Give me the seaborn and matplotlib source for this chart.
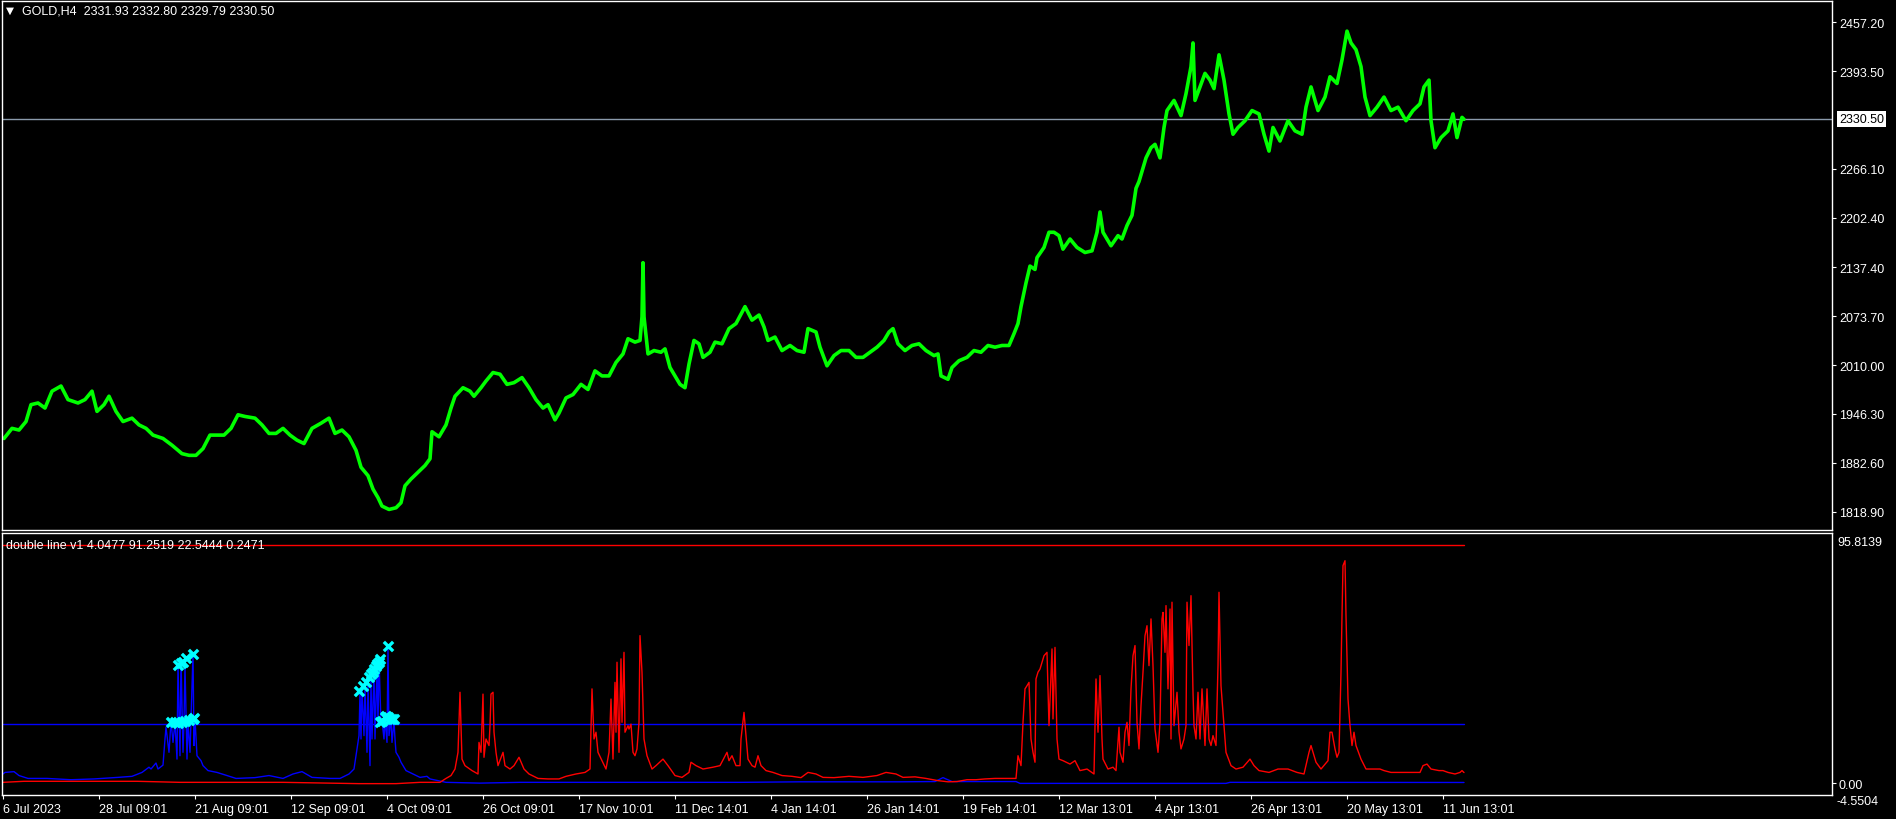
import pandas as pd
import matplotlib
matplotlib.use("Agg")
import matplotlib.pyplot as plt
import seaborn as sns

# ---- GOLD H4 closes (bar position, price) ----
price_bar = [4, 12, 19, 26, 31, 38, 45, 52, 61, 68, 78, 85, 92, 97, 104, 109, 116, 123, 132, 139,
             146, 153, 163, 172, 182, 189, 196, 203, 210, 217, 224, 231, 238, 245, 255, 262, 269, 276,
             283, 290, 297, 304, 312, 321, 329, 335, 342, 349, 356, 361, 368, 373, 378, 382, 389, 396,
             401, 405, 411, 418, 425, 430, 432, 439, 446, 451, 455, 463, 470, 474, 481, 486, 493, 500,
             507, 514, 522, 529, 536, 543, 548, 555, 559, 566, 573, 581, 588, 595, 602, 609, 616, 623,
             628, 635, 640, 642, 643, 644, 648, 654, 661, 665, 670, 675, 680, 685, 689, 694, 699, 703,
             710, 715, 722, 729, 736,
             745, 752, 759, 764, 768, 775, 782, 790, 797, 804, 808, 816, 820, 827, 834, 841, 849, 856,
             863, 870, 877, 884, 889, 893, 898, 905, 912, 919, 926, 934, 938, 941, 948, 952, 959, 967,
             974, 981, 988, 995, 1002, 1009, 1014, 1018, 1021, 1026, 1030, 1035, 1037, 1044, 1049, 1054,
             1059, 1063, 1070, 1077, 1085, 1092, 1097, 1100, 1103, 1111, 1118, 1122, 1127, 1132, 1136,
             1139, 1146, 1151, 1155, 1160, 1164, 1167, 1174, 1181, 1186, 1191, 1193, 1195, 1200, 1205,
             1210, 1214, 1219, 1224, 1229, 1233, 1238, 1245, 1252, 1259, 1264, 1269, 1273, 1280, 1288,
             1295, 1302, 1306, 1311, 1318, 1325, 1330, 1337, 1342, 1347, 1351, 1356, 1361, 1365, 1370,
             1377, 1384, 1391, 1398, 1406, 1413, 1420, 1424, 1429, 1431, 1435, 1441, 1448, 1453, 1457,
             1462, 1464]
price_close = [1914.2, 1927.4, 1925.2, 1936.3, 1958.3, 1960.5, 1953.9, 1975.9, 1982.6, 1964.9,
               1960.5, 1964.9, 1975.9, 1949.5, 1958.3, 1969.3, 1949.5, 1936.3, 1940.7, 1931.9,
               1927.4, 1918.6, 1914.2, 1905.4, 1894.4, 1892.2, 1892.2, 1901.0, 1918.6, 1918.6,
               1918.6, 1927.4, 1945.1, 1942.9, 1940.7, 1931.9, 1920.8, 1920.8, 1927.4, 1918.6,
               1912.0, 1907.6, 1927.4, 1934.1, 1940.7, 1920.8, 1925.2, 1916.4, 1898.8, 1876.7,
               1865.7, 1848.1, 1837.0, 1826.0, 1821.6, 1823.8, 1830.4, 1852.5, 1861.3, 1870.1,
               1878.9, 1887.7, 1923.0, 1916.4, 1931.9, 1953.9, 1969.3, 1980.4, 1975.9, 1969.3,
               1980.4, 1989.2, 2000.2, 1998.0, 1984.8, 1987.0, 1993.6, 1980.4, 1964.9, 1953.9,
               1958.3, 1938.5, 1947.3, 1967.1, 1971.5, 1984.8, 1978.1, 2002.4, 1995.8, 1995.8,
               2013.4, 2024.5, 2044.3, 2039.9, 2042.1, 2073.0, 2143.5, 2073.0, 2024.5, 2028.9,
               2026.7, 2031.1, 2006.8, 1995.8, 1984.8, 1980.4, 2011.2, 2042.1, 2037.7, 2020.0,
               2026.7, 2039.9, 2037.7, 2057.5, 2064.1,
               2086.2, 2068.6, 2075.2, 2059.7, 2042.1, 2046.5, 2028.9, 2035.5, 2028.9, 2026.7,
               2057.5, 2053.1, 2033.3, 2009.0, 2022.3, 2028.9, 2028.9, 2020.0, 2020.0, 2026.7,
               2033.3, 2042.1, 2053.1, 2057.5, 2037.7, 2028.9, 2035.5, 2037.7, 2028.9, 2022.3,
               2024.5, 1995.8, 1991.4, 2006.8, 2015.6, 2020.0, 2028.9, 2026.7, 2035.5, 2033.3,
               2035.5, 2035.5, 2050.9, 2064.1, 2086.2, 2117.1, 2139.1, 2134.7, 2150.1, 2163.4,
               2183.2, 2183.2, 2178.8, 2161.2, 2174.4, 2163.4, 2156.8, 2159.0, 2183.2, 2209.7,
               2183.2, 2165.6, 2178.8, 2174.4, 2192.0, 2205.3, 2240.5, 2249.4, 2280.2, 2293.5,
               2297.9, 2280.2, 2319.9, 2342.0, 2355.2, 2335.4, 2364.0, 2399.3, 2430.2, 2355.2,
               2372.8, 2390.5, 2381.7, 2370.6, 2414.7, 2381.7, 2337.6, 2311.1, 2319.9, 2328.7,
               2342.0, 2337.6, 2311.1, 2289.1, 2319.9, 2302.3, 2328.7, 2315.5, 2311.1, 2346.4,
               2372.8, 2342.0, 2359.6, 2386.1, 2377.3, 2408.1, 2445.6, 2430.2, 2421.4, 2399.3,
               2359.6, 2335.4, 2346.4, 2359.6, 2342.0, 2346.4, 2328.7, 2342.0, 2350.8, 2372.8,
               2381.7, 2328.7, 2293.5, 2306.7, 2315.5, 2337.6, 2306.7, 2333.1, 2330.5]
last_price = 2330.50
price_ticks = [1818.90, 1882.60, 1946.30, 2010.00, 2073.70, 2137.40, 2202.40, 2266.10, 2393.50, 2457.20]

# ---- "double line v1" indicator buffers ----
blue_bar = [3, 5, 14, 19, 28, 47, 71, 94, 118, 132, 142, 149, 151, 156, 158, 163, 165, 166, 169, 171,
            173, 175, 177, 178, 180, 181, 183, 184, 185, 187, 188, 190, 191, 193, 194, 195, 197, 201,
            203, 208, 217, 227, 236, 255, 269, 283, 293, 302, 312, 330, 340, 349, 354, 356, 359, 360,
            361, 362, 364, 365, 367, 368, 370, 371, 372, 374, 375, 377, 378, 379, 381, 382, 384, 385,
            387, 388, 389, 391, 392, 394, 395, 396, 399, 401, 406, 413, 420, 427, 430,
            446, 480, 520, 590, 700, 740, 800, 900, 935, 943, 952, 1016, 1020, 1226, 1230, 1464]
blue_val = [3.5, 4.1, 4.4, 2.9, 1.8, 1.8, 1.3, 1.6, 2.2, 2.6, 4.1, 6.1, 5.4, 7.7, 5.4, 6.9, 16.9, 21.4,
            11.8, 23.9, 15.6, 23.3, 9.2, 45.6, 10.5, 47.6, 11.8, 23.9, 45.0, 9.2, 23.3, 11.8, 24.6,
            49.5, 14.4, 24.6, 10.5, 8.6, 6.7, 4.8, 4.1, 2.9, 1.8, 2.1, 2.9, 1.8, 3.5, 4.4, 2.2, 1.8,
            1.8, 3.5, 5.4, 10.5, 18.2, 34.8, 16.9, 36.1, 18.2, 37.3, 11.8, 38.6, 6.7, 39.9, 16.9,
            43.1, 16.9, 45.0, 22.0, 47.6, 22.6, 23.9, 16.9, 24.6, 15.6, 52.0, 18.2, 24.6, 15.6, 23.9,
            16.9, 11.8, 9.9, 8.0, 4.8, 3.5, 2.2, 2.6, 1.6,
            0.3, 0.0, 0.3, 0.3, 0.3, 0.3, 0.5, 0.5, 0.6, 2.1, 0.6, 0.6, -0.1, -0.1, 0.3, 0.25]

red_bar = [3, 24, 137, 180, 283, 359, 396, 420, 440,
           446, 451, 455, 458, 460, 462, 465, 472, 478, 479, 481, 483, 484, 486, 489, 490, 491, 493,
           494, 496, 498, 503, 505, 510, 514, 519, 524, 529, 538, 548, 559, 566, 576, 585, 590, 592,
           594, 596, 598, 602, 606, 609, 611, 613, 615, 616, 617, 619, 621, 622, 624, 625, 628, 629,
           631, 633, 635, 637, 639, 640, 642, 644, 647, 652, 656, 663, 668, 675, 682, 689, 691, 696,
           703, 713, 720, 727, 729, 732, 736, 740,
           741, 744, 746, 748, 752, 755, 758, 761, 766, 773, 782, 792, 801, 808, 816, 823, 834, 849,
           863, 877, 886, 896, 903, 915, 926, 938, 948, 957, 967, 976, 985, 995, 1004, 1016, 1018,
           1021, 1023, 1025, 1027, 1029, 1031, 1033, 1035, 1036, 1038, 1040, 1042, 1044, 1047, 1049,
           1052, 1053, 1055, 1057, 1059, 1063, 1070, 1075, 1080, 1087, 1094, 1096, 1098, 1100, 1102,
           1103, 1108, 1113, 1116, 1119, 1120, 1123, 1125, 1127, 1129, 1131, 1133, 1135, 1137, 1139,
           1141, 1143, 1145, 1147, 1149, 1151, 1153, 1155, 1158, 1160, 1162, 1163, 1165, 1166, 1168,
           1170, 1171, 1172, 1174, 1177, 1179, 1181, 1184, 1186, 1187, 1189, 1191, 1193, 1194, 1196,
           1198, 1200, 1202, 1204, 1205, 1207, 1209, 1211, 1213, 1216, 1218, 1219, 1221, 1222, 1224,
           1226, 1231, 1236, 1243, 1250, 1254, 1259, 1269, 1278, 1288, 1297, 1304, 1309, 1311, 1316,
           1321, 1328, 1330, 1332, 1335, 1337, 1339, 1341, 1342, 1343, 1345, 1346, 1348, 1350, 1352,
           1354, 1356, 1361, 1366, 1372, 1380, 1384, 1391, 1401, 1410, 1420, 1423, 1427, 1431, 1439,
           1443, 1448, 1455, 1460, 1462, 1464]
red_val = [0.3, 0.7, 0.7, 0.3, 0.3, -0.2, -0.2, 0.3, 0.3,
           1.8, 2.9, 5.4, 11.8, 34.8, 9.2, 6.7, 4.8, 3.5, 15.6, 11.8, 34.1, 9.9, 16.9, 14.4, 22.0,
           34.1, 34.8, 19.5, 11.8, 6.7, 11.8, 6.7, 5.4, 6.7, 9.9, 5.4, 3.5, 1.8, 1.6, 1.6, 2.6, 3.5,
           4.1, 5.4, 36.1, 16.9, 19.5, 11.8, 8.6, 5.4, 11.8, 32.2, 9.2, 38.6, 19.5, 46.3, 11.8, 47.6,
           23.3, 50.1, 19.5, 22.0, 20.7, 22.6, 11.8, 10.5, 13.1, 23.3, 56.5, 42.5, 16.9, 10.5, 5.4,
           6.7, 9.2, 6.7, 2.9, 2.2, 4.1, 8.0, 6.7, 5.4, 6.1, 6.7, 11.8, 8.6, 10.5, 6.7, 6.7,
           16.9, 27.1, 18.2, 9.2, 6.7, 6.1, 10.5, 6.7, 4.8, 4.1, 2.9, 2.6, 2.1, 4.1, 3.5, 2.2, 2.1,
           2.6, 2.2, 2.9, 4.1, 3.5, 2.2, 2.4, 1.8, 0.95, 0.5, 0.6, 1.3, 1.3, 1.6, 1.8, 1.8, 1.8, 10.5,
           6.7, 23.3, 36.1, 37.3, 38.6, 16.9, 11.8, 8.0, 39.9, 42.5, 43.7, 46.3, 48.8, 50.1, 22.0,
           51.4, 24.6, 52.0, 16.9, 9.2, 8.6, 7.3, 8.6, 4.8, 5.4, 3.5, 39.9, 19.5, 41.2, 16.9, 9.2,
           5.4, 6.1, 4.8, 21.4, 11.8, 8.0, 19.5, 23.3, 14.4, 36.1, 48.8, 52.7, 23.3, 13.1, 29.7, 42.5,
           56.5, 60.3, 45.0, 62.9, 45.0, 20.7, 11.8, 23.3, 62.9, 65.4, 50.1, 68.0, 36.1, 66.7, 16.9,
           69.3, 22.0, 34.8, 19.5, 13.1, 16.9, 22.0, 69.3, 52.7, 71.8, 34.8, 22.0, 16.9, 34.8, 16.9,
           36.1, 22.0, 14.4, 36.1, 16.9, 14.4, 18.2, 14.4, 45.0, 73.1, 37.3, 32.2, 22.0, 11.8, 6.7,
           5.4, 6.1, 9.2, 6.7, 4.8, 4.1, 5.4, 5.4, 4.1, 3.5, 11.8, 14.4, 8.0, 5.4, 8.6, 19.5, 19.5,
           13.1, 9.9, 11.8, 42.5, 64.2, 83.3, 85.2, 64.2, 32.2, 22.0, 14.4, 19.5, 14.4, 9.2, 5.4, 5.4,
           5.4, 4.8, 4.1, 4.1, 4.1, 4.1, 6.7, 7.3, 5.4, 4.8, 4.8, 4.1, 3.5, 4.1, 4.8, 4.0477]

red_level = 91.2519
blue_level = 22.5444

signal_bar = [171, 175, 178, 182, 185, 189, 193, 194, 178, 181, 183, 186, 193,
              359, 363, 366, 369, 371, 373, 374, 376, 377, 379, 380, 388,
              380, 382, 385, 386, 388, 390, 392, 394]
signal_val = [23.5, 23.5, 23.0, 23.5, 23.8, 24.2, 24.6, 24.8, 45.3, 46.0, 46.5, 47.8, 49.5,
              35.4, 37.3, 38.6, 40.5, 41.8, 42.7, 43.7, 44.8, 45.6, 46.5, 47.6, 52.4,
              23.3, 23.9, 25.2, 25.9, 25.5, 24.6, 24.6, 24.6]

ind_max = 95.8139
ind_min = -4.5504

tick_bar = [3, 99, 195, 291, 387, 483, 579, 675, 771, 867, 963, 1059, 1155, 1251, 1347, 1443]
tick_labels = ["6 Jul 2023", "28 Jul 09:01", "21 Aug 09:01", "12 Sep 09:01", "4 Oct 09:01",
               "26 Oct 09:01", "17 Nov 10:01", "11 Dec 14:01", "4 Jan 14:01", "26 Jan 14:01",
               "19 Feb 14:01", "12 Mar 13:01", "4 Apr 13:01", "26 Apr 13:01", "20 May 13:01",
               "11 Jun 13:01"]

price_df = pd.DataFrame({"bar": price_bar, "close": price_close})
blue_df = pd.DataFrame({"bar": blue_bar, "val": blue_val})
red_df = pd.DataFrame({"bar": red_bar, "val": red_val})
sig_df = pd.DataFrame({"bar": signal_bar, "val": signal_val})
span = [price_bar[0] - 1, price_bar[-1]]
red_lvl_df = pd.DataFrame({"bar": span, "val": [red_level, red_level]})
blue_lvl_df = pd.DataFrame({"bar": span, "val": [blue_level, blue_level]})

sns.set_theme(style="dark", rc={"axes.facecolor": "black", "figure.facecolor": "black",
                                "axes.edgecolor": "white", "axes.grid": False})
plt.rcParams["font.family"] = ["Liberation Sans", "DejaVu Sans"]
plt.rcParams["font.size"] = 9

W, H = 1896, 820
fig = plt.figure(figsize=(W / 100, H / 100), dpi=100)
ax1 = fig.add_axes([2 / W, 1 - 531 / H, 1830 / W, 529 / H])
ax2 = fig.add_axes([2 / W, 1 - 796 / H, 1830 / W, 262 / H])

# price panel
ax1.axhline(last_price, color="#8a9aab", lw=1)
sns.lineplot(data=price_df, x="bar", y="close", color="#00ff00", lw=2.6,
             estimator=None, sort=False, ax=ax1)
ax1.set_xlim(2, 1832)
ax1.set_ylim(1794.8, 2484.9)
ax1.set_xticks([])
ax1.yaxis.tick_right()
ax1.set_yticks(price_ticks)
ax1.set_yticklabels([f"{v:.2f}" for v in price_ticks])
ax1.annotate(f"{last_price:.2f}", xy=(1, last_price), xycoords=("axes fraction", "data"),
             xytext=(5, 0), textcoords="offset points", ha="left", va="center",
             color="black", fontsize=9,
             bbox=dict(boxstyle="square,pad=0.15", fc="white", ec="none"))

# indicator panel
sns.lineplot(data=red_lvl_df, x="bar", y="val", color="#ff0000", lw=1, ax=ax2)
sns.lineplot(data=blue_lvl_df, x="bar", y="val", color="#0000ff", lw=1, ax=ax2)
sns.lineplot(data=blue_df, x="bar", y="val", color="#0000ff", lw=1,
             estimator=None, sort=False, ax=ax2)
sns.lineplot(data=red_df, x="bar", y="val", color="#ff0000", lw=1,
             estimator=None, sort=False, ax=ax2)
sns.scatterplot(data=sig_df, x="bar", y="val", color="#00ffff", marker="x", s=45,
                linewidth=2.4, ax=ax2, zorder=5)
ax2.set_xlim(2, 1832)
ax2.set_ylim(ind_min, ind_max)
ax2.yaxis.tick_right()
ax2.set_yticks([0])
ax2.set_yticklabels(["0.00"])
ax2.set_xticks(tick_bar)
ax2.set_xticklabels(tick_labels, ha="left")
ax2.annotate(f"{ind_max:.4f}", xy=(1, 1), xycoords="axes fraction", xytext=(4, -2),
             textcoords="offset points", ha="left", va="top", color="white", fontsize=9)
ax2.annotate(f"{ind_min:.4f}", xy=(1, 0), xycoords="axes fraction", xytext=(3, 0),
             textcoords="offset points", ha="left", va="top", color="white", fontsize=9)

for ax in (ax1, ax2):
    ax.set_xlabel("")
    ax.set_ylabel("")
    for s in ax.spines.values():
        s.set_color("white")
        s.set_linewidth(1)
    ax.tick_params(axis="both", colors="white", labelcolor="white", labelsize=9,
                   length=3, width=0.8, pad=2, direction="out")
    ax.tick_params(axis="y", left=False, right=True)
ax1.tick_params(axis="x", bottom=False)
ax2.tick_params(axis="x", bottom=True, pad=3)

fig.text(6 / W, 1 - 11 / H, "\u25bc", color="white", fontsize=7.5, va="center",
         family=["DejaVu Sans"])
fig.text(22 / W, 1 - 12 / H, "GOLD,H4  2331.93 2332.80 2329.79 2330.50", color="white",
         fontsize=9, va="center")
fig.text(6 / W, 1 - 546 / H, "double line v1 4.0477 91.2519 22.5444 0.2471", color="white",
         fontsize=9, va="center")

fig.savefig("out.png", dpi=100, facecolor="black")
